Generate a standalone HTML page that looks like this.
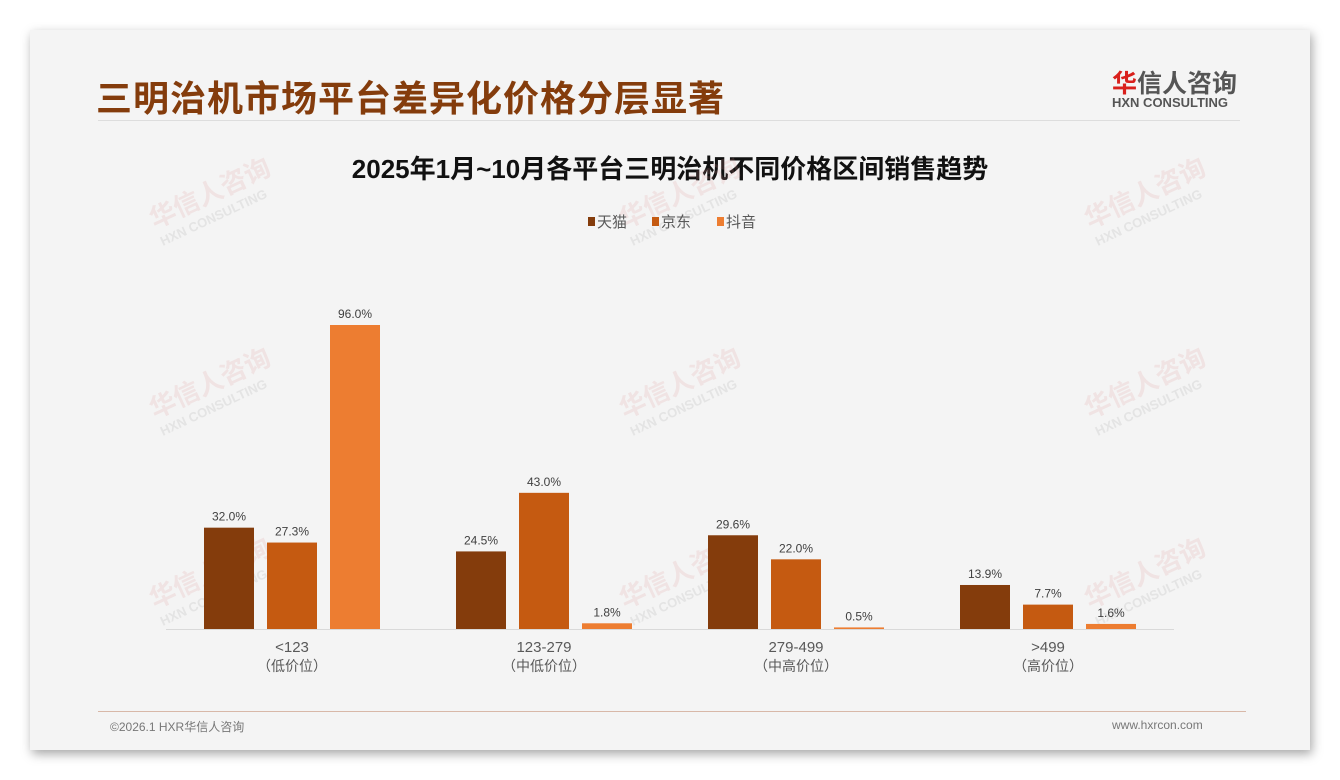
<!DOCTYPE html>
<html><head><meta charset="utf-8"><style>
body{margin:0;width:1340px;height:780px;background:#fff;font-family:"Liberation Sans","Noto Sans CJK SC",sans-serif;overflow:hidden;position:relative}
#card{position:absolute;left:30px;top:30px;width:1280px;height:720px;background:#f4f4f4;box-shadow:2px 4px 10px rgba(0,0,0,.35)}
.t{position:absolute;white-space:nowrap}
.wm{position:absolute;color:rgba(220,150,150,.18);font-weight:bold;transform:rotate(-25deg);font-size:26px;line-height:24px}
.wm small{display:block;font-size:13px;color:rgba(180,180,180,.25)}
</style></head><body>
<div id="card"></div>
<div class="t" style="left:96px;top:70px;font-size:36px;font-weight:bold;color:#843c0c;letter-spacing:1px">三明治机市场平台差异化价格分层显著</div>
<div class="t" style="left:1112px;top:64px;font-size:25px;font-weight:bold;color:#555"><span style="color:#d9201c">华</span>信人咨询</div>
<div class="t" style="left:1112px;top:95px;font-size:13px;font-weight:bold;color:#555">HXN CONSULTING</div>
<div style="position:absolute;left:98px;top:120px;width:1142px;height:1px;background:#ddd"></div>
<div class="t" style="left:0;width:1340px;text-align:center;top:149px;font-size:26px;font-weight:bold;color:#111">2025年1月~10月各平台三明治机不同价格区间销售趋势</div>
<div id="wms"></div>
<svg id="chart" width="1340" height="780" style="position:absolute;left:0;top:0"></svg>
<div style="position:absolute;left:98px;top:711px;width:1148px;height:1px;background:#d8b8a8"></div>
<div class="t" style="left:110px;top:718px;font-size:12px;color:#777">©2026.1 HXR华信人咨询</div>
<div class="t" style="left:1112px;top:718px;font-size:12px;color:#777">www.hxrcon.com</div>
<script>
const categories=["<123","123-279","279-499",">499"];
const sublabels=["（低价位）","（中低价位）","（中高价位）","（高价位）"];
const seriesNames=["天猫","京东","抖音"];
const tmall=[32.0,24.5,29.6,13.9];
const jd=[27.3,43.0,22.0,7.7];
const douyin=[96.0,1.8,0.5,1.6];
const colors=["#843c0c","#c55a11","#ed7d31"];
const series=[tmall,jd,douyin];
const NS="http://www.w3.org/2000/svg";
const svg=document.getElementById('chart');
const x0=166,plotW=1008,baseY=629,pxPer=304/96;
const bw=50,gap=13;
function y(v){return baseY-v*pxPer;}
function gx(i){return x0+plotW/categories.length*(i+0.5);}
function mk(tag,a){const e=document.createElementNS(NS,tag);for(const k in a)e.setAttribute(k,a[k]);svg.appendChild(e);return e;}
const ax=mk('line',{x1:x0,x2:x0+plotW,y1:baseY+0.5,y2:baseY+0.5,stroke:'#d9d9d9','stroke-width':1});


categories.forEach((c,i)=>{
  series.forEach((s,j)=>{
    const cx=gx(i)+(j-1)*(bw+gap);
    const r=mk('rect',{x:cx-bw/2,y:y(s[i]),width:bw,height:baseY-y(s[i]),fill:colors[j]});
    
    
    const t=mk('text',{x:cx,y:y(s[i])-7,'text-anchor':'middle','font-size':12,fill:'#404040'});
    t.textContent=s[i].toFixed(1)+'%';
    
    
  });
  const l=mk('text',{x:gx(i),y:652,'text-anchor':'middle','font-size':15,fill:'#595959'});
  l.textContent=c;
  
  
  const l2=mk('text',{x:gx(i),y:671,'text-anchor':'middle','font-size':14,fill:'#595959'});
  l2.textContent=sublabels[i];
  
  
});
const lx=[588,652,717];
seriesNames.forEach((n,j)=>{
  const r=mk('rect',{x:lx[j],y:217,width:7,height:9,fill:colors[j]});
  
  
  const t=mk('text',{x:lx[j]+9,y:227,'font-size':15,fill:'#595959'});
  t.textContent=n;
  
  
});
const wpos=[[150,180],[1085,180],[150,370],[620,370],[1085,370],[150,560],[620,560],[1085,560],[620,180]];
const wd=document.getElementById('wms');
wpos.forEach(p=>{const d=document.createElement('div');d.className='wm';d.style.left=p[0]+'px';d.style.top=p[1]+'px';d.innerHTML='华信人咨询<small>HXN CONSULTING</small>';


wd.appendChild(d);});
</script>
</body></html>
